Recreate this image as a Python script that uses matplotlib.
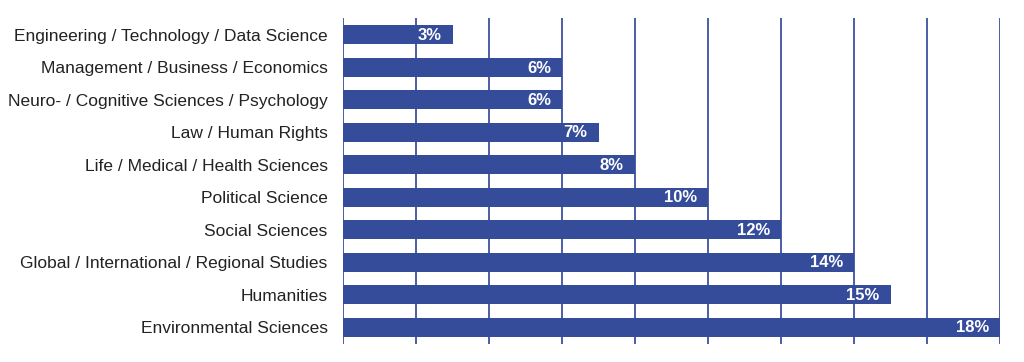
import matplotlib
matplotlib.use("Agg")
import matplotlib.pyplot as plt

fields = [
    "Engineering / Technology / Data Science",
    "Management / Business / Economics",
    "Neuro- / Cognitive Sciences / Psychology",
    "Law / Human Rights",
    "Life / Medical / Health Sciences",
    "Political Science",
    "Social Sciences",
    "Global / International / Regional Studies",
    "Humanities",
    "Environmental Sciences",
]
shares = [3, 6, 6, 7, 8, 10, 12, 14, 15, 18]
grid_steps = [0, 2, 4, 6, 8, 10, 12, 14, 16, 18]

BLUE = "#344C9A"

plt.rcParams["font.family"] = ["Liberation Sans", "DejaVu Sans"]

fig = plt.figure(figsize=(10.24, 3.62), dpi=100)
ax = fig.add_axes([343 / 1024, 18 / 362, (1000 - 343) / 1024, (344 - 18) / 362])

pos = list(range(len(fields)))
ax.barh(pos, shares, height=0.58, color=BLUE, zorder=3)

for p, v in zip(pos, shares):
    ax.annotate(f"{v}%", xy=(v, p), xytext=(-8, -0.5), textcoords="offset points",
                ha="right", va="center", color="white", fontweight="bold",
                fontsize=12, zorder=4)

ax.set_xlim(0, 18)
ax.set_ylim(len(fields) - 0.5 + 0.02, -0.52)
ax.set_xticks(grid_steps)
ax.set_xticklabels([])
ax.tick_params(axis="x", length=0)
ax.xaxis.grid(True, color="#3B51A0", linewidth=1.3, zorder=1)

ax.set_yticks(pos)
ax.set_yticklabels(fields, fontsize=12.5, color="#222222")
ax.tick_params(axis="y", length=0, pad=11)

for s in ax.spines.values():
    s.set_visible(False)

fig.savefig("out.png", dpi=100)
